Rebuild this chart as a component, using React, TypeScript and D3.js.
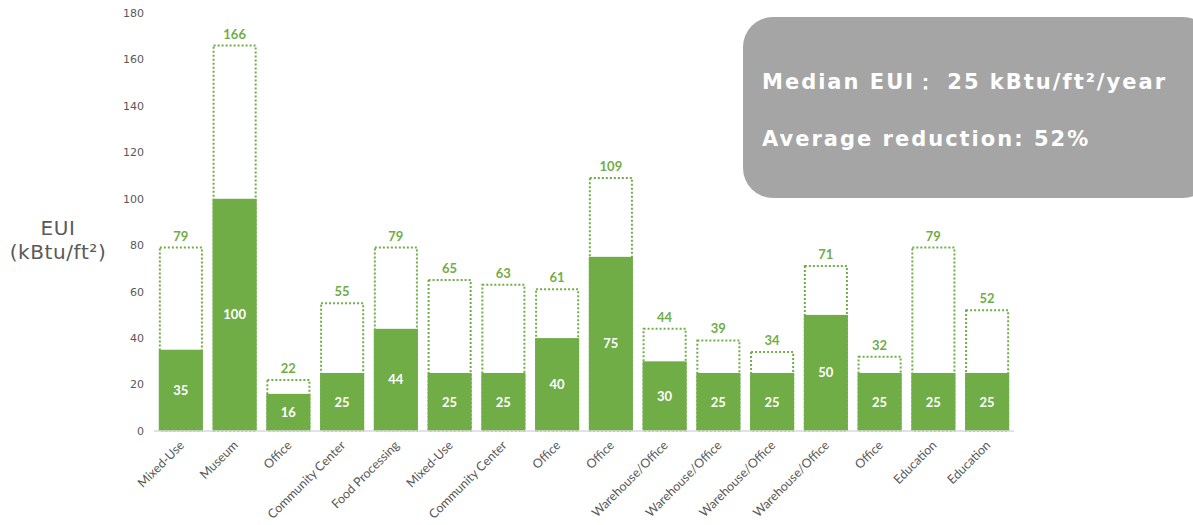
import { useEffect, useRef } from "react";
import * as d3 from "d3";

const categories = [
  "Mixed-Use", "Museum", "Office", "Community Center", "Food Processing",
  "Mixed-Use", "Community Center", "Office", "Office", "Warehouse/Office",
  "Warehouse/Office", "Warehouse/Office", "Warehouse/Office", "Office",
  "Education", "Education",
];
const actualEui = [35, 100, 16, 25, 44, 25, 25, 40, 75, 30, 25, 25, 50, 25, 25, 25];
const baselineEui = [79, 166, 22, 55, 79, 65, 63, 61, 109, 44, 39, 34, 71, 32, 79, 52];
const yTicks = [0, 20, 40, 60, 80, 100, 120, 140, 160, 180];
const summaryLines = ["Median EUI\uFF1A 25 kBtu/ft\u00B2/year", "Average reduction: 52%"];

const GREEN = "#70AD47";
const GREY = "#595959";

const App = () => {
  const ref = useRef<SVGSVGElement>(null);

  useEffect(() => {
    const svg = d3.select(ref.current);
    svg.selectAll("*").remove();

    const x = d3
      .scaleBand<number>()
      .domain(categories.map((_, i) => i))
      .range([154, 1014])
      .paddingInner(0.18)
      .paddingOuter(0.09);
    const y = d3.scaleLinear().domain([0, 180]).range([431, 13]);

    // y tick labels
    svg
      .append("g")
      .selectAll("text")
      .data(yTicks)
      .enter()
      .append("text")
      .attr("x", 144)
      .attr("y", (d) => y(d))
      .attr("dy", "0.35em")
      .attr("text-anchor", "end")
      .attr("font-family", "DejaVu Sans, Verdana, sans-serif")
      .attr("font-size", 11)
      .attr("fill", GREY)
      .text((d) => d);

    // baseline (dotted) bars
    svg
      .append("g")
      .selectAll("rect")
      .data(baselineEui)
      .enter()
      .append("rect")
      .attr("x", (_, i) => x(i)! + 1)
      .attr("y", (d) => y(d))
      .attr("width", x.bandwidth() - 2)
      .attr("height", (d) => y(0) - y(d))
      .attr("fill", "none")
      .attr("stroke", GREEN)
      .attr("stroke-width", 2)
      .attr("stroke-dasharray", "2,2");

    // actual bars
    svg
      .append("g")
      .selectAll("rect")
      .data(actualEui)
      .enter()
      .append("rect")
      .attr("x", (_, i) => x(i)!)
      .attr("y", (d) => y(d))
      .attr("width", x.bandwidth())
      .attr("height", (d) => y(0) - y(d))
      .attr("fill", GREEN);

    // axis line
    svg
      .append("line")
      .attr("x1", x.range()[0])
      .attr("x2", x.range()[1])
      .attr("y1", y(0))
      .attr("y2", y(0))
      .attr("stroke", "#D9D9D9")
      .attr("stroke-width", 1.5);

    // values inside bars
    svg
      .append("g")
      .selectAll("text")
      .data(actualEui)
      .enter()
      .append("text")
      .attr("x", (_, i) => x(i)! + x.bandwidth() / 2)
      .attr("y", (d) => (y(d) + y(0)) / 2)
      .attr("dy", "0.35em")
      .attr("text-anchor", "middle")
      .attr("font-family", "Lato, sans-serif")
      .attr("font-weight", "bold")
      .attr("font-size", 13)
      .attr("fill", "#fff")
      .text((d) => d);

    // baseline labels
    svg
      .append("g")
      .selectAll("text")
      .data(baselineEui)
      .enter()
      .append("text")
      .attr("x", (_, i) => x(i)! + x.bandwidth() / 2)
      .attr("y", (d) => y(d) - 7)
      .attr("text-anchor", "middle")
      .attr("font-family", "Lato, sans-serif")
      .attr("font-weight", "bold")
      .attr("font-size", 13)
      .attr("fill", GREEN)
      .text((d) => d);

    // category labels
    svg
      .append("g")
      .selectAll("text")
      .data(categories)
      .enter()
      .append("text")
      .attr(
        "transform",
        (_, i) => `translate(${x(i)! + x.bandwidth() / 2 + 1},${y(0) + 12}) rotate(-45)`
      )
      .attr("text-anchor", "end")
      .attr("dy", "0.35em")
      .attr("font-family", "Lato, sans-serif")
      .attr("font-size", 12.5)
      .attr("fill", GREY)
      .text((d) => d);

    // y title
    const title = svg
      .append("g")
      .attr("font-family", "DejaVu Sans, Verdana, sans-serif")
      .attr("font-size", 20)
      .attr("letter-spacing", 0.6)
      .attr("text-anchor", "middle")
      .attr("fill", GREY);
    title.append("text").attr("x", 58).attr("y", 235).text("EUI");
    title.append("text").attr("x", 58).attr("y", 259).text("(kBtu/ft\u00B2)");

    // summary box
    svg
      .append("rect")
      .attr("x", 743)
      .attr("y", 17)
      .attr("width", 470)
      .attr("height", 181)
      .attr("rx", 30)
      .attr("fill", "#A5A5A5");
    svg
      .append("g")
      .attr("font-family", "DejaVu Sans, Verdana, sans-serif")
      .attr("font-weight", "bold")
      .attr("font-size", 21)
      .attr("letter-spacing", 2)
      .attr("fill", "#fff")
      .selectAll("text")
      .data(summaryLines)
      .enter()
      .append("text")
      .attr("x", 762)
      .attr("y", (_, i) => 89 + i * 57)
      .style("white-space", "pre")
      .text((d) => d);
  }, []);

  return (
    <svg
      ref={ref}
      width={1193}
      height={525}
      style={{ position: "absolute", left: 0, top: 0, background: "#fff" }}
    />
  );
};

export default App;
